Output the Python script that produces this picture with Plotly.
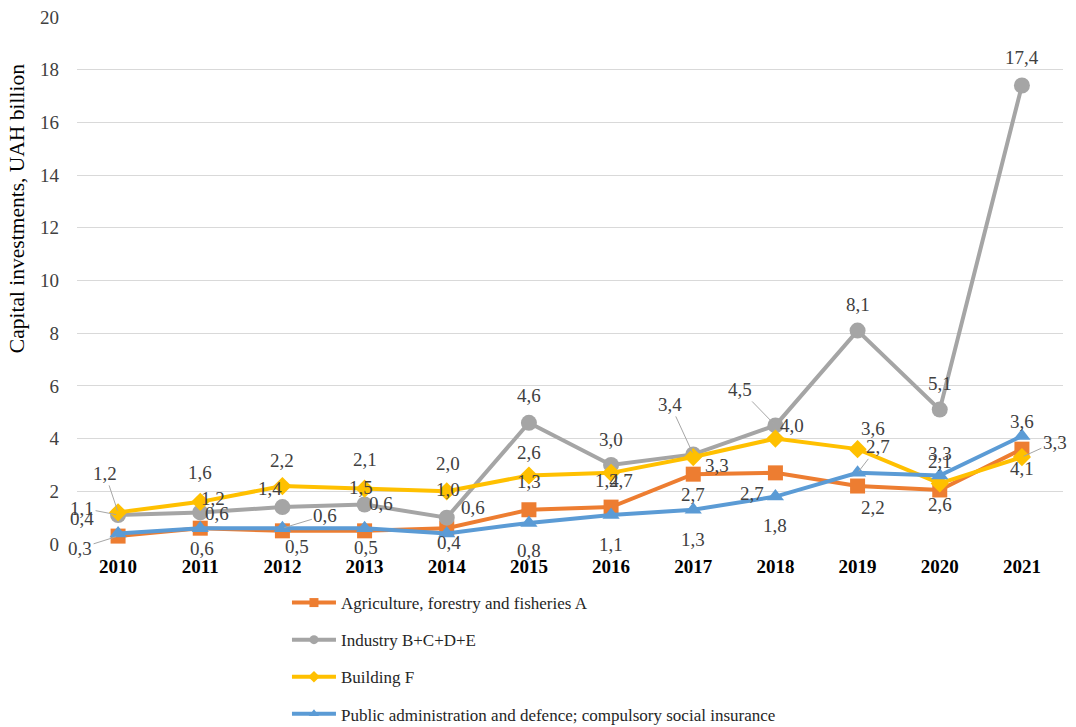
import plotly.graph_objects as go

years = ['2010', '2011', '2012', '2013', '2014', '2015', '2016', '2017', '2018', '2019', '2020', '2021']
agriculture = [0.3, 0.6, 0.5, 0.5, 0.6, 1.3, 1.4, 2.65, 2.7, 2.2, 2.05, 3.6]
industry = [1.1, 1.2, 1.4, 1.5, 1.0, 4.6, 3.0, 3.4, 4.5, 8.1, 5.1, 17.4]
building = [1.2, 1.6, 2.2, 2.1, 2.0, 2.6, 2.7, 3.3, 4.0, 3.6, 2.3, 3.3]
public_admin = [0.4, 0.6, 0.6, 0.6, 0.4, 0.8, 1.1, 1.3, 1.8, 2.7, 2.6, 4.1]

agriculture_labels = ['0,3', '0,6', '0,5', '0,5', '0,6', '1,3', '1,4', '2,7', '2,7', '2,2', '2,1', '4,1']
industry_labels = ['1,1', '1,2', '1,4', '1,5', '1,0', '4,6', '3,0', '3,4', '4,5', '8,1', '5,1', '17,4']
building_labels = ['1,2', '1,6', '2,2', '2,1', '2,0', '2,6', '2,7', '3,3', '4,0', '3,6', '3,3', '3,3']
public_labels = ['0,4', '0,6', '0,6', '0,6', '0,4', '0,8', '1,1', '1,3', '1,8', '2,7', '2,6', '3,6']

series_names = [
    'Agriculture, forestry and fisheries A',
    'Industry B+C+D+E',
    'Building F',
    'Public administration and defence; compulsory social insurance',
]

# label placement (pixel offsets dx, dy (down positive), leader line flag)
agri_off = [(-38, 12, 1), (2, 20, 0), (15, 16, 0), (1, 17, 0), (26, -21, 0), (0, -28, 0),
            (-4, -27, 0), (0, 20, 0), (-23, 21, 0), (15, 21, 0), (0, -28, 0), (0, 19, 0)]
ind_off = [(-36, -7, 1), (13, -14, 0), (-12, -19, 0), (-4, -17, 0), (1, -28, 0), (0, -27, 0),
           (0, -25, 0), (-23, -50, 1), (-35, -36, 1), (0, -26, 0), (0, -26, 0), (0, -28, 0)]
bld_off = [(-13, -39, 1), (0, -29, 0), (0, -26, 0), (0, -29, 0), (1, -28, 0), (0, -23, 0),
           (10, 8, 0), (24, 8, 0), (17, -13, 0), (15, -21, 0), (0, -30, 0), (33, -15, 1)]
pub_off = [(-36, -15, 0), (17, -15, 0), (43, -13, 1), (16, -25, 0), (2, 9, 0), (0, 28, 0),
           (0, 29, 0), (0, 30, 0), (0, 29, 0), (20, -26, 1), (0, 29, 0), (0, -14, 0)]

colors = ['#ED7D31', '#A5A5A5', '#FFC000', '#5B9BD5']
symbols = ['square', 'circle', 'diamond', 'triangle-up']
msizes = [15, 16, 14, 15]
values = [agriculture, industry, building, public_admin]
labels = [agriculture_labels, industry_labels, building_labels, public_labels]
offsets = [agri_off, ind_off, bld_off, pub_off]

FONT = 'Liberation Serif, Times New Roman, serif'
xs = list(range(len(years)))

fig = go.Figure()
for i in range(4):
    fig.add_trace(go.Scatter(
        x=xs, y=values[i], name=series_names[i], mode='lines+markers',
        line=dict(color=colors[i], width=4),
        marker=dict(symbol=symbols[i], size=msizes[i], color=colors[i]),
        showlegend=False,
    ))
# legend entries with small symbols, as in the reference
for i in range(4):
    fig.add_trace(go.Scatter(
        x=[None], y=[None], name=series_names[i], mode='lines+markers',
        line=dict(color=colors[i], width=4),
        marker=dict(symbol=symbols[i], size=9, color=colors[i]),
        legendgroup=str(i), showlegend=True,
    ))

annotations = []
for i in range(4):
    for j in range(len(years)):
        dx, dy, leader = offsets[i][j]
        if leader:
            annotations.append(dict(
                x=xs[j], y=values[i][j], xref='x', yref='y', text=labels[i][j],
                showarrow=True, ax=dx, ay=dy, arrowhead=0, arrowwidth=1,
                arrowcolor='#A6A6A6', standoff=2,
                font=dict(family=FONT, size=19, color='#404040')))
        else:
            annotations.append(dict(
                x=xs[j], y=values[i][j], xref='x', yref='y', text=labels[i][j],
                showarrow=False, xshift=dx, yshift=-dy,
                font=dict(family=FONT, size=19, color='#404040')))

annotations.append(dict(
    x=-0.061, y=0.637, xref='paper', yref='paper', text='Capital investments, UAH billion',
    textangle=-90, showarrow=False, xanchor='center', yanchor='middle',
    font=dict(family=FONT, size=21.5, color='#000000')))

fig.update_layout(
    width=1076, height=727,
    margin=dict(l=77, r=13, t=17, b=183, autoexpand=False),
    paper_bgcolor='white', plot_bgcolor='white',
    font=dict(family=FONT, size=16, color='#404040'),
    showlegend=True,
    legend=dict(
        orientation='v', x=0.2667, y=0.1953, xref='container', yref='container',
        xanchor='left', yanchor='top',
        font=dict(family=FONT, size=17, color='#262626'),
        tracegroupgap=12, itemwidth=44, traceorder='grouped',
    ),
    annotations=annotations,
)
fig.update_xaxes(
    range=[-0.5, 11.5], tickmode='array', tickvals=xs, ticktext=['<b>%s</b>' % y for y in years],
    showgrid=False, zeroline=False, showline=False, ticks='', automargin=False,
    tickfont=dict(family=FONT, size=19, color='#000000'), ticklabelstandoff=9,
)
fig.update_yaxes(
    range=[0, 20], dtick=2, showgrid=True, gridcolor='#D9D9D9', gridwidth=1,
    zeroline=False, showline=False, ticks='', automargin=False,
    tickfont=dict(family=FONT, size=19, color='#404040'), ticklabelstandoff=17,
)

fig.write_html('out.html', config={'displayModeBar': False},
               post_script="document.body.style.margin='0';")
